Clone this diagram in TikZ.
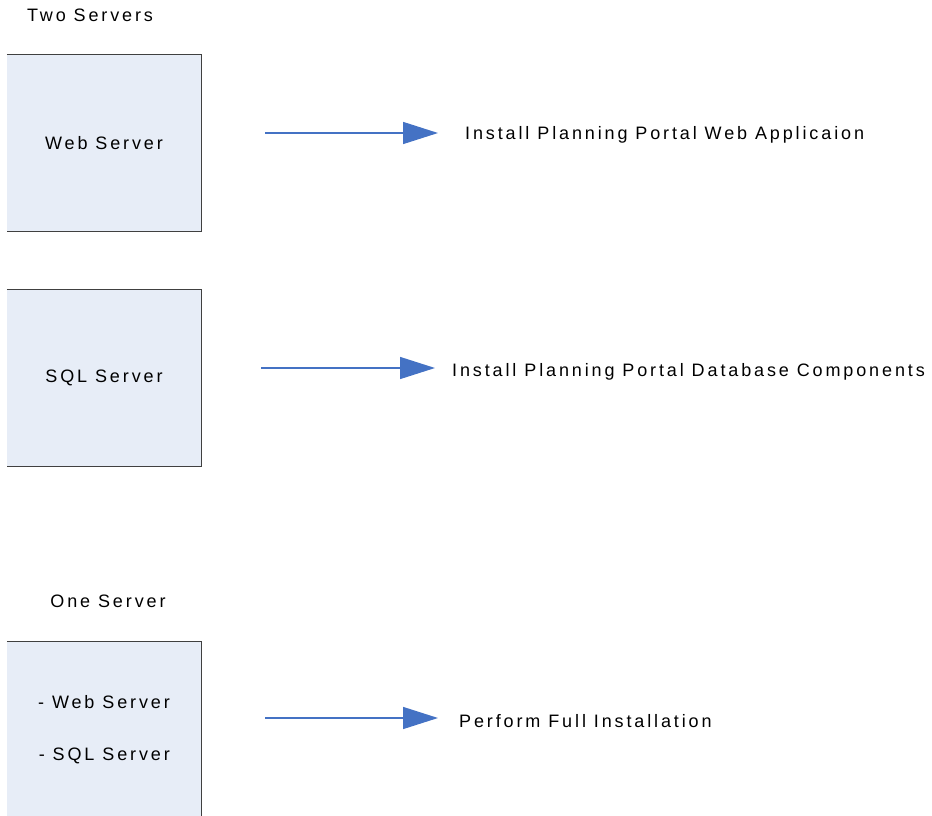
\documentclass[tikz,border=0pt]{standalone}
\usepackage{fontspec}
\setmainfont{Liberation Sans}
\newfontfamily\wideface[LetterSpace=16]{Liberation Sans}
\usetikzlibrary{arrows.meta,positioning}

\begin{document}
\begin{tikzpicture}[x=1pt,y=-1pt,
	server/.style={fill=boxfill, minimum width=194pt, minimum height=176pt, inner sep=0pt, align=right},
	task/.style={anchor=west, inner sep=0pt},
	flow/.style={draw=arrowblue, line width=1.4pt, -{Triangle[length=35pt,width=22pt]}},
	every node/.style={font=\wideface\fontsize{18}{21}\selectfont}]

	% Define colors
	\definecolor{boxfill}{RGB}{231, 237, 247}
	\definecolor{boxline}{rgb}{0.25, 0.25, 0.25}
	\definecolor{arrowblue}{RGB}{68, 114, 196}

	% Fix the page size
	\useasboundingbox (0,0) rectangle (932,816);

	% Draw the headings
	\node (two) at (90,15) {Two Servers};
	\node (one) at (108,601) {One Server};

	% Draw the server boxes
	\node[server] (web) at (104,143) {Web Server};
	\node[server] (sql) at (104,378) {SQL Server};
	\node[server] (both) at (104,730) {- Web Server\\[31pt]- SQL Server};

	% Draw the border lines of the boxes
	\foreach \b in {web, sql, both} {
		\draw[boxline, line width=0.8pt] (\b.north west) -- (\b.north east) -- (\b.south east) -- (\b.south west);
	}

	% Draw the tasks
	\node[task] (webtask) at (465,135) {Install Planning Portal Web Applicaion};
	\node[task] (sqltask) at (452,372) {Install Planning Portal Database Components};
	\node[task] (fulltask) at (459,721) {Perform Full Installation};

	% Draw the arrows
	\draw[flow] ([shift={(64,-10)}]web.east) -- ([shift={(-27,-2)}]webtask.west);
	\draw[flow] ([shift={(60,-10)}]sql.east) -- ([shift={(-17,-4)}]sqltask.west);
	\draw[flow] ([shift={(64,-12)}]both.east) -- ([shift={(-21,-3)}]fulltask.west);

\end{tikzpicture}
\end{document}
